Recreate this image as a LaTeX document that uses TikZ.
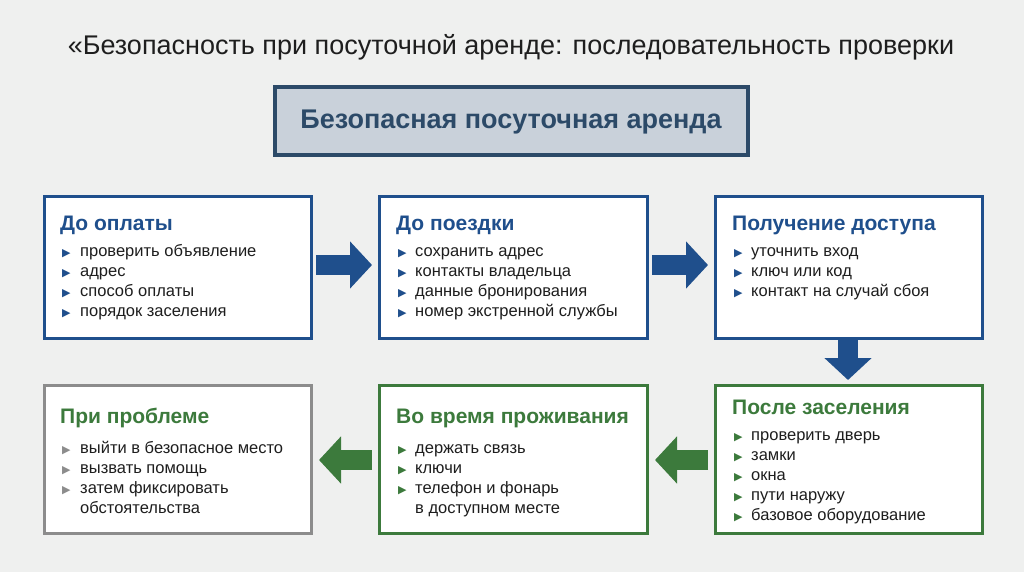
\documentclass[tikz,border=0pt]{standalone}
\usepackage{fontspec}
\setmainfont{Liberation Sans}
\newfontfamily\dvs{DejaVu Sans}
\usetikzlibrary{arrows.meta}
\definecolor{bg}{HTML}{EFF0EF}
\definecolor{hdrfill}{HTML}{C9D1DA}
\definecolor{hdrtext}{HTML}{2C4A68}
\definecolor{blu}{HTML}{1F4F8C}
\definecolor{grn}{HTML}{3C7A3C}
\definecolor{gry}{HTML}{8C8C8C}
\definecolor{txt}{HTML}{1E1E1E}
\begin{document}
\begin{tikzpicture}[x=1pt,y=-1pt,
  box/.style={draw=#1,line width=3pt,fill=white},
  ttl/.style={anchor=base west,inner sep=0pt,font=\fontsize{21}{24}\selectfont\bfseries,text=#1},
  itm/.style={anchor=base west,font=\fontsize{16.5}{19}\selectfont,text=txt,inner sep=0pt},
  mk/.style={anchor=base west,font=\dvs\fontsize{11}{12}\selectfont,text=#1,inner sep=0pt},
  blk/.style={draw=#1,line width=20pt,-{Triangle[length=22pt,width=46pt]}}]
\fill[bg] (0,0) rectangle (1024,572);
\node[anchor=base,font=\fontsize{27}{30}\selectfont,text=txt] (title) at (511,55) {«Безопасность при посуточной аренде: последовательность проверки};
\draw[draw=hdrtext,line width=4pt,fill=hdrfill] (275,87) rectangle (748,155);
\node[font=\fontsize{27}{30}\selectfont\bfseries,text=hdrtext] (hdr) at (511,122) {Безопасная посуточная аренда};
% boxes
\node[box=blu,minimum width=267pt,minimum height=142pt,anchor=north west] (b1) at (43,195) {};
\node[box=blu,minimum width=268pt,minimum height=142pt,anchor=north west] (b2) at (378,195) {};
\node[box=blu,minimum width=267pt,minimum height=142pt,anchor=north west] (b3) at (714,195) {};
\node[box=gry,minimum width=267pt,minimum height=148pt,anchor=north west] (b4) at (43,384) {};
\node[box=grn,minimum width=268pt,minimum height=148pt,anchor=north west] (b5) at (378,384) {};
\node[box=grn,minimum width=267pt,minimum height=148pt,anchor=north west] (b6) at (714,384) {};
% arrows
\draw[blk=blu,shorten <=3pt,shorten >=6pt] (b1.east|-0,265) -- (b2.west|-0,265);
\draw[blk=blu,shorten <=3pt,shorten >=6pt] (b2.east|-0,265) -- (b3.west|-0,265);
\draw[blk=blu,shorten <=3pt,shorten >=4pt] (848,337) coordinate (d1) -- (848,384) coordinate (d2);
\draw[blk=grn,shorten <=6pt,shorten >=6pt] (b6.west|-0,460) -- (b5.east|-0,460);
\draw[blk=grn,shorten <=6pt,shorten >=6pt] (b5.west|-0,460) -- (b4.east|-0,460);
% texts top
\node[ttl=blu] (t1) at (60,230) {До оплаты};
\foreach \i/\s in {0/проверить объявление,1/адрес,2/способ оплаты,3/порядок заселения}{
  \node[mk=blu] (m1\i) at (62,256+20*\i) {▶}; \node[itm] (i1\i) at (80,256+20*\i) {\s};}
\node[ttl=blu] (t2) at (396,230) {До поездки};
\foreach \i/\s in {0/сохранить адрес,1/контакты владельца,2/данные бронирования,3/номер экстренной службы}{
  \node[mk=blu] (m2\i) at (398,256+20*\i) {▶}; \node[itm] (i2\i) at (415,256+20*\i) {\s};}
\node[ttl=blu] (t3) at (732,230) {Получение доступа};
\foreach \i/\s in {0/уточнить вход,1/ключ или код,2/контакт на случай сбоя}{
  \node[mk=blu] (m3\i) at (734,256+20*\i) {▶}; \node[itm] (i3\i) at (751,256+20*\i) {\s};}
% bottom
\node[ttl=grn] (t4) at (60,423) {При проблеме};
\foreach \i/\s in {0/выйти в безопасное место,1/вызвать помощь,2/затем фиксировать}{
  \node[mk=gry] (m4\i) at (62,453+20*\i) {▶}; \node[itm] (i4\i) at (80,453+20*\i) {\s};}
\node[itm] (i43) at (80,513) {обстоятельства};
\node[ttl=grn] (t5) at (396,423) {Во время проживания};
\foreach \i/\s in {0/держать связь,1/ключи,2/телефон и фонарь}{
  \node[mk=grn] (m5\i) at (398,453+20*\i) {▶}; \node[itm] (i5\i) at (415,453+20*\i) {\s};}
\node[itm] (i53) at (415,513) {в доступном месте};
\node[ttl=grn] (t6) at (732,414) {После заселения};
\foreach \i/\s in {0/проверить дверь,1/замки,2/окна,3/пути наружу,4/базовое оборудование}{
  \node[mk=grn] (m6\i) at (734,440+20*\i) {▶}; \node[itm] (i6\i) at (751,440+20*\i) {\s};}
\end{tikzpicture}
\end{document}
